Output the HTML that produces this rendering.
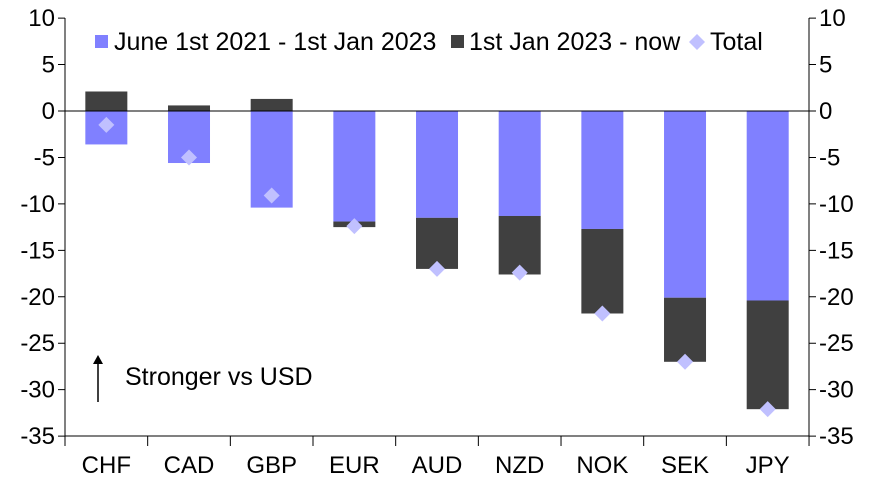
<!DOCTYPE html>
<html><head><meta charset="utf-8"><style>
body{margin:0;background:#fff;}
svg text{font-family:"Liberation Sans",Arial,sans-serif;font-size:24px;fill:#000;}
svg text.l{font-size:25px;}
</style></head><body>
<svg width="874" height="482" xmlns="http://www.w3.org/2000/svg">
<g id="bars"></g>
<script>
(function(){
var ns="http://www.w3.org/2000/svg",g=document.getElementById('bars');
function Y(v){return 111-v*9.289;}
var d=[["CHF",-3.6,2.1,-1.5,0],["CAD",-5.6,0.6,-5.0,0],["GBP",-10.4,1.3,-9.1,0],["EUR",-11.9,-0.6,-12.4,1],["AUD",-11.5,-5.5,-17.0,1],["NZD",-11.3,-6.3,-17.4,1],["NOK",-12.7,-9.1,-21.8,1],["SEK",-20.1,-6.9,-27.0,1],["JPY",-20.4,-11.7,-32.1,1]];
function r(x,y,w,h,f){var e=document.createElementNS(ns,'rect');e.setAttribute('x',x);e.setAttribute('y',y);e.setAttribute('width',w);e.setAttribute('height',h);e.setAttribute('fill',f);g.appendChild(e);}
d.forEach(function(o,i){var c=65+82.67*(i+0.5),x=c-21;
 r(x,Y(0),42,Y(o[1])-Y(0),"#8080ff");
 if(o[4]){r(x,Y(o[1]),42,Y(o[1]+o[2])-Y(o[1]),"#404040");}
 else{r(x,Y(o[2]),42,Y(0)-Y(o[2]),"#404040");}
 var p=document.createElementNS(ns,'polygon'),ty=Y(o[3]);
 p.setAttribute('points',(c-8)+","+ty+" "+c+","+(ty-8)+" "+(c+8)+","+ty+" "+c+","+(ty+8));p.setAttribute('fill',"#c0c0ff");g.appendChild(p);
 var t=document.createElementNS(ns,'text');t.setAttribute('x',c);t.setAttribute('y',473);t.setAttribute('text-anchor','middle');t.textContent=o[0];g.appendChild(t);
});
for(var v=10;v>=-35;v-=5){var y=Y(v);
 var l=document.createElementNS(ns,'path');l.setAttribute('d',"M58 "+y+"H65M809 "+y+"H816");l.setAttribute('stroke','#000');g.appendChild(l);
 var t=document.createElementNS(ns,'text');t.setAttribute('x',55);t.setAttribute('y',y+8);t.setAttribute('text-anchor','end');t.textContent=v;g.appendChild(t);
 t=document.createElementNS(ns,'text');t.setAttribute('x',819);t.setAttribute('y',y+8);t.textContent=v;g.appendChild(t);}
for(var i=0;i<=9;i++){var x=65+82.67*i;var l=document.createElementNS(ns,'path');l.setAttribute('d',"M"+x+" 436V446");l.setAttribute('stroke','#000');g.appendChild(l);}
})();
</script>
<line x1="65" y1="18" x2="65" y2="436" stroke="#000"/>
<line x1="809" y1="18" x2="809" y2="436" stroke="#000"/>
<line x1="65" y1="436" x2="809" y2="436" stroke="#000"/>
<line x1="65" y1="111" x2="809" y2="111" stroke="#000"/>
<rect x="95" y="35" width="13" height="13" fill="#8080ff"/>
<text class="l" x="114" y="50">June 1st 2021 - 1st Jan 2023</text>
<rect x="451" y="35" width="13" height="13" fill="#404040"/>
<text class="l" x="469" y="50">1st Jan 2023 - now</text>
<polygon points="689,42 697,34 705,42 697,50" fill="#c0c0ff"/>
<text class="l" x="710" y="50">Total</text>
<line x1="98" y1="402" x2="98" y2="362" stroke="#000" stroke-width="1.5"/>
<polygon points="93,364 98,355 103,364" fill="#000"/>
<text class="l" x="125" y="385">Stronger vs USD</text>
</svg>
</body></html>
